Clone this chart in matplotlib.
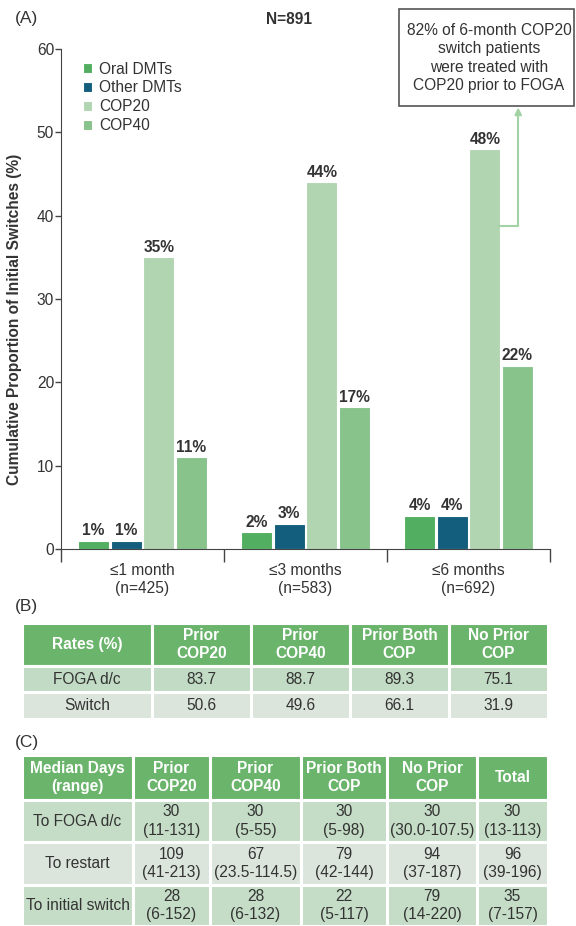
import numpy as np
import matplotlib
matplotlib.use("Agg")
import matplotlib.pyplot as plt
from matplotlib.patches import Rectangle

plt.rcParams['font.family'] = ['Liberation Sans', 'DejaVu Sans']
plt.rcParams['text.color'] = '#333333'

# panel A data
periods = ['\u22641 month\n(n=425)', '\u22643 months\n(n=583)', '\u22646 months\n(n=692)']
series = ['Oral DMTs', 'Other DMTs', 'COP20', 'COP40']
oral = [1, 2, 4]
other = [1, 3, 4]
cop20 = [35, 44, 48]
cop40 = [11, 17, 22]
colors = ['#52AE60', '#135E7C', '#B1D5B1', '#87C38B']

# panel B data
b_header = ['Rates (%)', 'Prior\nCOP20', 'Prior\nCOP40', 'Prior Both\nCOP', 'No Prior\nCOP']
b_rows = [['FOGA d/c', '83.7', '88.7', '89.3', '75.1'],
          ['Switch', '50.6', '49.6', '66.1', '31.9']]

# panel C data
c_header = ['Median Days\n(range)', 'Prior\nCOP20', 'Prior\nCOP40', 'Prior Both\nCOP', 'No Prior\nCOP', 'Total']
c_rows = [['To FOGA d/c', '30\n(11-131)', '30\n(5-55)', '30\n(5-98)', '30\n(30.0-107.5)', '30\n(13-113)'],
          ['To restart', '109\n(41-213)', '67\n(23.5-114.5)', '79\n(42-144)', '94\n(37-187)', '96\n(39-196)'],
          ['To initial switch', '28\n(6-152)', '28\n(6-132)', '22\n(5-117)', '79\n(14-220)', '35\n(7-157)']]

FS = 11.2
W, H = 576, 926
fig = plt.figure(figsize=(W / 100, H / 100), dpi=100)

# ---- (A) bar chart ----
ax = fig.add_axes([61 / W, 1 - 549 / H, 489 / W, 500 / H])
x = np.arange(len(periods))
offs = [-0.3, -0.1, 0.1, 0.3]
for vals, name, c, o in zip([oral, other, cop20, cop40], series, colors, offs):
    bars = ax.bar(x + o, vals, width=0.19, color=c, edgecolor='white', linewidth=0.8, label=name)
    for b, v in zip(bars, vals):
        ax.text(b.get_x() + b.get_width() / 2, v + 0.3, f'{v}%', ha='center', va='bottom',
                fontsize=FS, fontweight='bold', color='#333333')

ax.set_xlim(-0.5, 2.5)
ax.set_ylim(0, 60)
ax.set_yticks(range(0, 61, 10))
ax.set_xticks(x)
ax.set_xticklabels(periods, fontsize=FS, color='#333333', linespacing=1.28)
ax.set_xticks([-0.5, 0.5, 1.5, 2.5], minor=True)
ax.tick_params(axis='x', which='major', length=0, pad=10)
ax.tick_params(axis='x', which='minor', length=9.5, width=1, color='#444444')
ax.tick_params(axis='y', length=4, width=1, color='#444444', labelsize=FS, labelcolor='#333333', pad=1)
for s in ['top', 'right']:
    ax.spines[s].set_visible(False)
for s in ['left', 'bottom']:
    ax.spines[s].set_color('#444444')
ax.set_ylabel('Cumulative Proportion of Initial Switches (%)', fontsize=FS, fontweight='bold',
              color='#333333')
ax.yaxis.set_label_coords(-0.08, 0.46)

ax.legend(loc='upper left', bbox_to_anchor=(0.045, 0.975), frameon=False, fontsize=FS,
          handlelength=0.6, handleheight=0.6, handletextpad=0.45, labelspacing=0.25,
          borderpad=0, borderaxespad=0)

# arrow from 6-month COP20 bar to annotation box
ax.annotate('', xy=(2.305, 53.0), xytext=(2.19, 38.8),
            arrowprops=dict(arrowstyle='-|>', color='#A3D3A5', lw=1.5, mutation_scale=10,
                            shrinkA=0, shrinkB=0,
                            connectionstyle='angle,angleA=0,angleB=90,rad=0'))

fig.text(15 / W, 1 - 19 / H, '(A)', fontsize=12.5, va='center', ha='left')
fig.text(289 / W, 1 - 20 / H, 'N=891', fontsize=FS, fontweight='bold', va='center', ha='center')
fig.add_artist(Rectangle((399 / W, 1 - 106 / H), 175 / W, 97 / H, transform=fig.transFigure,
                         fill=False, edgecolor='#555555', lw=1.2))
fig.text(489 / W, 1 - 58 / H, '82% of 6-month COP20\nswitch patients\nwere treated with\nCOP20 prior to FOGA',
         fontsize=FS, ha='center', va='center', linespacing=1.28)


def draw_table(axt, col_edges, row_edges, header, rows, row_colors, fs):
    axt.set_xlim(col_edges[0], col_edges[-1])
    axt.set_ylim(row_edges[-1], row_edges[0])
    axt.axis('off')
    all_rows = [header] + rows
    fills = ['#6BB46C'] + row_colors
    for r, cells in enumerate(all_rows):
        for c, txt in enumerate(cells):
            x0, x1 = col_edges[c], col_edges[c + 1]
            y0, y1 = row_edges[r], row_edges[r + 1]
            axt.add_patch(Rectangle((x0, y0), x1 - x0, y1 - y0, facecolor=fills[r],
                                    edgecolor='white', lw=2.2))
            if r == 0:
                axt.text((x0 + x1) / 2, (y0 + y1) / 2, txt, ha='center', va='center', fontsize=fs,
                         fontweight='bold', color='white', linespacing=1.25)
            else:
                axt.text((x0 + x1) / 2, (y0 + y1) / 2, txt, ha='center', va='center', fontsize=fs,
                         color='#333333', linespacing=1.25)


# ---- (B) table ----
fig.text(15 / W, 1 - 607 / H, '(B)', fontsize=12.5, va='center', ha='left')
axb = fig.add_axes([22 / W, 1 - 719 / H, 526 / W, 96 / H])
draw_table(axb, [0, 130, 229, 328, 427, 526], [0, 43, 69, 96], b_header, b_rows,
           ['#C2DBC4', '#DCE5DC'], FS)

# ---- (C) table ----
fig.text(15 / W, 1 - 742 / H, '(C)', fontsize=12.5, va='center', ha='left')
axc = fig.add_axes([22 / W, 0, 526 / W, 171 / H])
draw_table(axc, [0, 111, 188, 279, 365, 455, 526], [0, 45, 87, 130, 171], c_header, c_rows,
           ['#C5DDC7', '#DCE5DC', '#C5DDC7'], FS)

fig.savefig('out.png', dpi=100)
